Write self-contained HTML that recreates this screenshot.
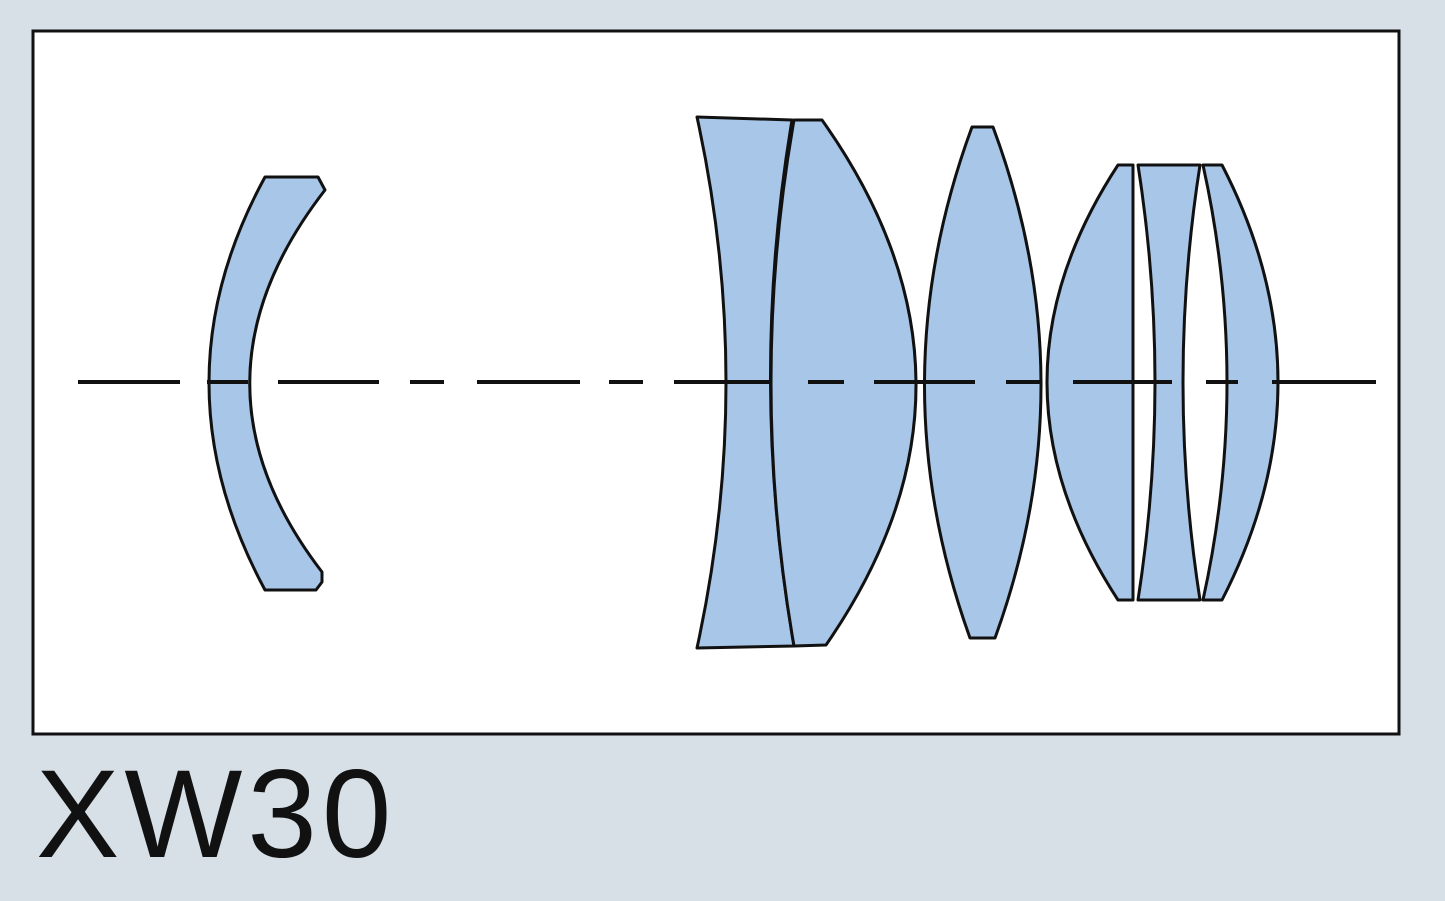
<!DOCTYPE html>
<html><head><meta charset="utf-8"><style>
html,body{margin:0;padding:0;background:#d6e0e6;}
body{width:1445px;height:901px;position:relative;overflow:hidden;}
.t{position:absolute;left:36px;top:752px;font-family:"Liberation Sans",sans-serif;font-size:125px;line-height:125px;color:#111;letter-spacing:5px;}
</style></head><body>
<svg width="1445" height="901" style="position:absolute;left:0;top:0">
<rect x="33" y="31" width="1366" height="703" fill="#fff" stroke="#111" stroke-width="3"/>
<g fill="#a8c6e8" stroke="#111" stroke-width="3" stroke-linejoin="round">
<path d="M265,177 L318,177 L325,190 Q176,382 322,572 L322,582 L316,590 L265,590 Q153,382 265,177 Z"/>
<path d="M697,117 L792,120 Q748,382 794,646 L697,648 Q755,382 697,117 Z"/>
<path d="M794,120 L822,120 Q1008,382 826,645 L794,646 Q748,382 794,120 Z"/>
<path d="M972,127 L993,127 Q1088,382 995,638 L970,638 Q878,382 972,127 Z"/>
<path d="M1118,165 L1133,165 L1133,600 L1118,600 Q976,382 1118,165 Z"/>
<path d="M1138,165 L1200,165 Q1166,382 1200,600 L1138,600 Q1172,382 1138,165 Z"/>
<path d="M1203,165 L1222,165 Q1334,382 1222,600 L1203,600 Q1251,382 1203,165 Z"/>
</g>
<g stroke="#111" stroke-width="4">
<line x1="78" y1="382" x2="180" y2="382"/>
<line x1="207" y1="382" x2="248" y2="382"/>
<line x1="278" y1="382" x2="379" y2="382"/>
<line x1="410" y1="382" x2="444" y2="382"/>
<line x1="477" y1="382" x2="580" y2="382"/>
<line x1="609" y1="382" x2="643" y2="382"/>
<line x1="674" y1="382" x2="771" y2="382"/>
<line x1="808" y1="382" x2="844" y2="382"/>
<line x1="874" y1="382" x2="975" y2="382"/>
<line x1="1006" y1="382" x2="1040" y2="382"/>
<line x1="1073" y1="382" x2="1172" y2="382"/>
<line x1="1206" y1="382" x2="1238" y2="382"/>
<line x1="1272" y1="382" x2="1376" y2="382"/>
</g>
</svg>
<div class="t">XW30</div>
</body></html>
